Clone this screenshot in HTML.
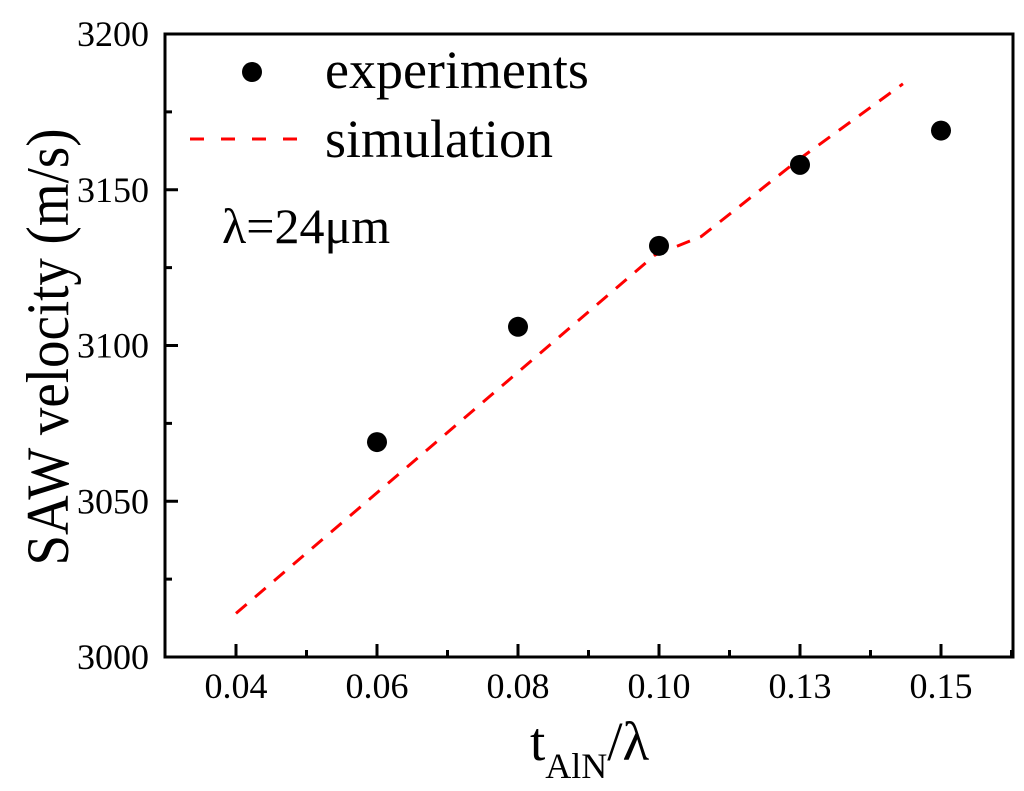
<!DOCTYPE html>
<html><head><meta charset="utf-8"><style>
body{margin:0;background:#fff;}
svg text{font-family:"Liberation Serif","Times New Roman",serif;fill:#000;}
</style></head><body>
<svg id="chart" width="1024" height="786" xmlns="http://www.w3.org/2000/svg"></svg>
<script>
const xTickLabels=["0.04","0.06","0.08","0.10","0.13","0.15"];
const yTicks=[3000,3050,3100,3150,3200];
const expX=[1,2,3,4,5];
const expY=[3069,3106,3132,3158,3169];
const simX=[0,2.97,3.3,4,4.73];
const simY=[3014,3129,3135,3160,3184];

const L=165,R=1013,T=34,B=657;
const x0=236,dx=141;
function sx(i){return x0+i*dx;}
function sy(v){return B-(v-3000)/200*(B-T);}
const svg=document.getElementById('chart');
const NS="http://www.w3.org/2000/svg";
function mk(tag,attrs,parent){const e=document.createElementNS(NS,tag);for(const k in attrs)e.setAttribute(k,attrs[k]);(parent||svg).appendChild(e);return e;}

const frame=mk('rect',{x:L,y:T,width:R-L,height:B-T,fill:'none',stroke:'#000','stroke-width':3});



xTickLabels.forEach((lab,i)=>{
  const t=mk('line',{x1:sx(i),x2:sx(i),y1:B,y2:B-13,stroke:'#000','stroke-width':3});
  
  
  const m=mk('line',{x1:sx(i+0.5),x2:sx(i+0.5),y1:B,y2:B-7,stroke:'#000','stroke-width':3});
  
  
  const tx=mk('text',{x:sx(i),y:698,'text-anchor':'middle','font-size':36});
  tx.textContent=lab;
  
  
});
yTicks.forEach((v,i)=>{
  const t=mk('line',{x1:L,x2:L+13,y1:sy(v),y2:sy(v),stroke:'#000','stroke-width':3});
  
  
  if(i<yTicks.length-1){
    const m=mk('line',{x1:L,x2:L+7,y1:sy(v+25),y2:sy(v+25),stroke:'#000','stroke-width':3});
    
    
  }
  const tx=mk('text',{x:149,y:sy(v)+12,'text-anchor':'end','font-size':36});
  tx.textContent=v;
  
  
});

const pts=simX.map((x,i)=>sx(x)+','+sy(simY[i])).join(' ');
const sim=mk('polyline',{points:pts,fill:'none',stroke:'#ff0000','stroke-width':3,'stroke-dasharray':'14,11'});



expX.forEach((x,i)=>{
  const c=mk('circle',{cx:sx(x),cy:sy(expY[i]),r:10,fill:'#000'});
  
  
});

const ld=mk('circle',{cx:252,cy:72,r:10,fill:'#000'});


const lt1=mk('text',{x:325,y:88,'font-size':54});
lt1.textContent='experiments';


const ll=mk('line',{x1:190,x2:300,y1:139,y2:139,stroke:'#ff0000','stroke-width':3,'stroke-dasharray':'14,17'});


const lt2=mk('text',{x:325,y:157,'font-size':54});
lt2.textContent='simulation';



const ann=mk('text',{x:222,y:243,'font-size':50});
ann.textContent='λ=24μm';



const yt=mk('text',{x:0,y:0,'font-size':60,'text-anchor':'middle',textLength:437,lengthAdjust:'spacingAndGlyphs',transform:'translate(68,347) rotate(-90)'});
yt.textContent='SAW velocity (m/s)';



const xt=mk('text',{x:530,y:760,'font-size':55,'text-anchor':'start'});


xt.innerHTML='t<tspan font-size="36" dy="18">AlN</tspan><tspan dy="-18">/λ</tspan>';
</script>
</body></html>
